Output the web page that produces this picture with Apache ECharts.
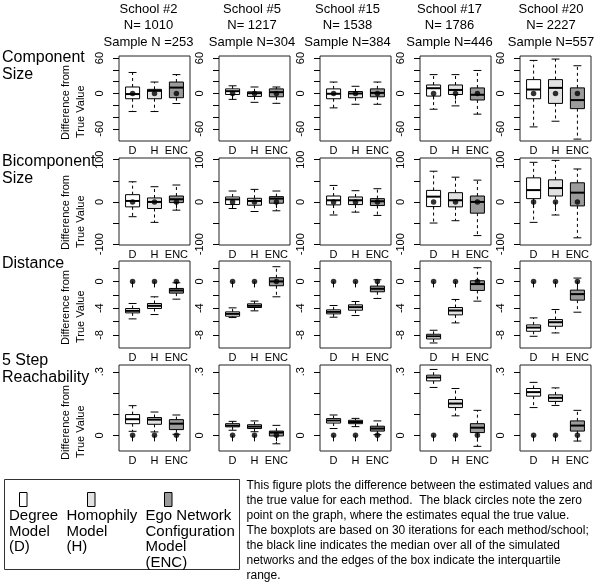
<!DOCTYPE html>
<html>
<head>
<meta charset="utf-8">
<script src="https://cdn.jsdelivr.net/npm/echarts@6/dist/echarts.min.js"></script>
<style>
html,body{margin:0;padding:0;background:#fff;}
#chart{width:600px;height:587px;}
</style>
</head>
<body>
<div id="chart"></div>
<script>
// ---------- data ----------
const schools = ['School #2', 'School #5', 'School #15', 'School #17', 'School #20'];
const populationN = ['N= 1010', 'N= 1217', 'N= 1538', 'N= 1786', 'N= 2227'];
const sampleN = ['Sample N =253', 'Sample N=304', 'Sample N=384', 'Sample N=446', 'Sample N=557'];
const methods = ['D', 'H', 'ENC'];
const measureTitles = [['Component', 'Size'], ['Bicomponent', 'Size'], ['Distance'], ['5 Step', 'Reachability']];
const trueValueDiff = [0, 0, 0]; // black circles: zero point for D, H, ENC

// each entry: [lower whisker, Q1, median, Q3, upper whisker] for D, H, ENC
const componentSize = [
  [[-30.6, -8.9, -1, 11, 35.6], [-30.6, -8.9, 4.5, 7, 19.4], [-17, -7.2, 10, 19.4, 32]],
  [[-10, -1.7, 3.9, 7.8, 13], [-15, -5, 0.5, 2.8, 11], [-16.7, -5.6, 2.2, 7.8, 11]],
  [[-24.4, -8.9, -0.5, 7.8, 19.4], [-18.3, -7.2, 0, 3.3, 12.2], [-18.3, -5.6, 1, 7.8, 19.4]],
  [[-26.7, -4.4, 8.9, 14.4, 32], [-21, -1.7, 6, 14.4, 32], [-35, -11, -2.2, 9.4, 39]],
  [[-56.6, -8.9, 6.7, 23.5, 56], [-47, -16.8, 9.5, 23.5, 58.3], [-77.3, -25.7, -11.2, 9.5, 47]]
];
const bicomponentSize = [
  [[-35, -11.7, 2.3, 17.2, 47.7], [-48.4, -15.6, 0, 9.4, 36], [-19.5, -1.6, 6.3, 14, 40]],
  [[-15.6, -6, 6, 11.7, 25.8], [-22.7, -7.8, 2.3, 8.6, 29.7], [-21, -3.1, 7.8, 12.5, 25.8]],
  [[-31, -7, 3.9, 14, 39], [-24.2, -6.3, 3.9, 11.7, 26.6], [-32, -8.6, 1.6, 7.8, 31.3]],
  [[-50, -11, 12.5, 27.3, 72.7], [-44.5, -11.7, 3.9, 21.9, 58.6], [-79.7, -26.6, 0, 14, 51.6]],
  [[-48.4, 7.8, 28, 57, 93.8], [-31, 14, 32.8, 52.3, 98.4], [-85, -9.4, 21.9, 45.3, 78]]
];
const distance = [
  [[-5.6, -4.7, -4.4, -4.05, -3.3], [-4.95, -4.05, -3.65, -3.3, -2.3], [-2.65, -1.75, -1.35, -1.05, -0.2]],
  [[-5.4, -5.2, -4.85, -4.55, -3.95], [-4.4, -3.9, -3.65, -3.35, -2.95], [-2.3, -0.65, 0, 0.55, 2.2]],
  [[-5.35, -4.85, -4.55, -4.25, -3.6], [-5.1, -4.3, -3.85, -3.5, -3], [-2.55, -1.55, -1.1, -0.7, 0.25]],
  [[-9.2, -8.6, -8.2, -7.9, -7.3], [-6.2, -5, -4.35, -3.9, -2.7], [-2.95, -1.35, -0.4, 0.1, 2.05]],
  [[-8.2, -7.45, -6.9, -6.5, -5.45], [-7.7, -6.7, -6.1, -5.7, -4.2], [-4.6, -2.8, -1.9, -1.3, 0.5]]
];
const reachability5 = [
  [[0.019, 0.055, 0.076, 0.098, 0.14], [0.016, 0.052, 0.074, 0.084, 0.11], [0.005, 0.027, 0.055, 0.074, 0.096]],
  [[0.024, 0.04, 0.046, 0.055, 0.066], [0.017, 0.032, 0.041, 0.05, 0.068], [-0.04, -0.003, 0.013, 0.02, 0.047]],
  [[0.032, 0.058, 0.07, 0.079, 0.096], [0.041, 0.055, 0.063, 0.071, 0.08], [0.003, 0.02, 0.032, 0.043, 0.068]],
  [[0.226, 0.257, 0.273, 0.284, 0.311], [0.092, 0.131, 0.15, 0.169, 0.221], [-0.052, 0.013, 0.036, 0.055, 0.118]],
  [[0.131, 0.185, 0.204, 0.221, 0.25], [0.141, 0.16, 0.177, 0.191, 0.224], [-0.027, 0.02, 0.046, 0.068, 0.118]]
];
const yTicks = [[-60, -40, -20, 0, 20, 40, 60], [-100, -50, 0, 50, 100], [-8, -6, -4, -2, 0, 2], [0, 0.1, 0.2, 0.3]];
const yTickLabels = [[-60, 0, 60], [-100, 0, 100], [-8, -4, 0], [0, 0.3]];
const legendLabels = [['Degree', 'Model', '(D)'], ['Homophily', 'Model', '(H)'], ['Ego Network', 'Configuration', 'Model', '(ENC)']];
const noteLines = [
  'This figure plots the difference between the estimated values and',
  'the true value for each method.  The black circles note the zero',
  'point on the graph, where the estimates equal the true value.',
  'The boxplots are based on 30 iterations for each method/school;',
  'the black line indicates the median over all of the simulated',
  'networks and the edges of the box indicate the interquartile',
  'range.'
];

// ---------- layout / style ----------
const measures = [componentSize, bicomponentSize, distance, reachability5];
const yRange = [[-80.5, 63.5], [-102, 104], [-9.95, 3.05], [-0.074, 0.332]];
const colLeft = [119, 219, 320, 420, 520];
const colW = 71;
const rowTop = [56, 158, 261, 365];
const rowH = [85, 87, 87, 86];
const fills = ['#ffffff', '#e2e2e2', '#9b9b9b'];
const FONT = '"Liberation Sans", Arial, sans-serif';
const BOX_W = 0.64, CAP_W = 0.36;

function fmtY(row, v) {
  if (row === 3) return v === 0 ? '0' : String(v).replace(/^0\./, '.');
  return String(v);
}

function renderBox(params, api) {
  const x = api.value(0);
  const lo = api.coord([x, api.value(1)]);
  const q1 = api.coord([x, api.value(2)]);
  const md = api.coord([x, api.value(3)]);
  const q3 = api.coord([x, api.value(4)]);
  const hi = api.coord([x, api.value(5)]);
  const bw = api.size([BOX_W, 0])[0];
  const cw = api.size([CAP_W, 0])[0];
  const cx = lo[0];
  const dash = {stroke: '#000', lineWidth: 1, lineDash: [3, 3]};
  const solid = {stroke: '#000', lineWidth: 1};
  return {
    type: 'group',
    children: [
      {type: 'line', shape: {x1: cx, y1: q3[1], x2: cx, y2: hi[1]}, style: dash},
      {type: 'line', shape: {x1: cx, y1: q1[1], x2: cx, y2: lo[1]}, style: dash},
      {type: 'line', shape: {x1: cx - cw / 2, y1: hi[1], x2: cx + cw / 2, y2: hi[1]}, style: solid},
      {type: 'line', shape: {x1: cx - cw / 2, y1: lo[1], x2: cx + cw / 2, y2: lo[1]}, style: solid},
      {type: 'rect', shape: {x: cx - bw / 2, y: q3[1], width: bw, height: q1[1] - q3[1]},
        style: {fill: fills[x - 1], stroke: '#000', lineWidth: 1}},
      {type: 'line', shape: {x1: cx - bw / 2, y1: md[1], x2: cx + bw / 2, y2: md[1]},
        style: {stroke: '#000', lineWidth: 2}}
    ]
  };
}

const grid = [], xAxis = [], yAxis = [], series = [];
measures.forEach((measure, r) => {
  schools.forEach((s, c) => {
    const idx = grid.length;
    grid.push({left: colLeft[c], top: rowTop[r], width: colW, height: rowH[r],
      show: true, borderColor: '#222', borderWidth: 1, backgroundColor: 'transparent',
      containLabel: false, outerBoundsMode: 'none'});
    xAxis.push({type: 'value', gridIndex: idx, min: 0.38, max: 3.62,
      axisLine: {show: false}, splitLine: {show: false},
      axisTick: {show: true, length: 6, customValues: [1, 2, 3], lineStyle: {color: '#000'}},
      axisLabel: {show: true, customValues: [1, 2, 3], margin: 4, color: '#000',
        fontFamily: FONT, fontSize: 11, formatter: v => methods[Math.round(v) - 1] || ''}});
    yAxis.push({type: 'value', gridIndex: idx, min: yRange[r][0], max: yRange[r][1],
      axisLine: {show: false}, splitLine: {show: false},
      axisTick: {show: true, length: 6, customValues: yTicks[r], lineStyle: {color: '#000'}},
      axisLabel: {show: true, customValues: yTickLabels[r], rotate: 90, margin: 14, color: '#000',
        fontFamily: FONT, fontSize: 11, formatter: v => fmtY(r, v)}});
    series.push({type: 'custom', xAxisIndex: idx, yAxisIndex: idx, renderItem: renderBox,
      encode: {x: 0, y: [1, 2, 3, 4, 5]}, clip: false, z: 2,
      data: measure[c].map((b, k) => [k + 1].concat(b))});
    series.push({type: 'scatter', xAxisIndex: idx, yAxisIndex: idx, symbolSize: 5.5, z: 5,
      itemStyle: {color: '#000'}, silent: true,
      data: trueValueDiff.map((v, k) => [k + 1, v])});
  });
});

// ---------- text graphics ----------
const graphic = [];
const colTitleX = [148.5, 252, 347.5, 449.5, 551];
schools.forEach((s, c) => {
  [s, populationN[c], sampleN[c]].forEach((t, i) => {
    graphic.push({type: 'text', x: colTitleX[c], y: [9, 25, 42][i],
      style: {text: t, font: '13px ' + FONT, fill: '#000', textAlign: 'center', textVerticalAlign: 'middle'}});
  });
});
const rowTitleY = [[58, 75], [162, 178.5], [263.5], [361, 378]];
measureTitles.forEach((lines, r) => {
  lines.forEach((t, i) => {
    graphic.push({type: 'text', x: 2, y: rowTitleY[r][i],
      style: {text: t, font: '16px ' + FONT, fill: '#000', textAlign: 'left', textVerticalAlign: 'middle'}});
  });
});
const yTitleStart = [140, 250, 345, 460];
yTitleStart.forEach((y0) => {
  graphic.push({type: 'text', x: 66, y: y0, rotation: Math.PI / 2,
    style: {text: 'Difference from', font: '11px ' + FONT, fill: '#000', textAlign: 'left', textVerticalAlign: 'middle'}});
  graphic.push({type: 'text', x: 81, y: y0 - 2, rotation: Math.PI / 2,
    style: {text: 'True Value', font: '11px ' + FONT, fill: '#000', textAlign: 'left', textVerticalAlign: 'middle'}});
});
// legend box
graphic.push({type: 'rect', shape: {x: 4.5, y: 479.5, width: 235, height: 90},
  style: {fill: 'none', stroke: '#333', lineWidth: 1}});
const legendX = [9, 66.5, 145.5];
const swatchX = [19.5, 87.5, 164.5];
legendLabels.forEach((lines, k) => {
  graphic.push({type: 'rect', shape: {x: swatchX[k], y: 492.5, width: 7.5, height: 14},
    style: {fill: fills[k], stroke: '#000', lineWidth: 1}});
  lines.forEach((t, i) => {
    graphic.push({type: 'text', x: legendX[k], y: 516 + i * 15.5,
      style: {text: t, font: '15px ' + FONT, fill: '#000', textAlign: 'left', textVerticalAlign: 'middle'}});
  });
});
noteLines.forEach((t, i) => {
  graphic.push({type: 'text', x: 246.5, y: 485.5 + i * 15,
    style: {text: t, font: '12px ' + FONT, fill: '#000', textAlign: 'left', textVerticalAlign: 'middle'}});
});

const chart = echarts.init(document.getElementById('chart'), null, {renderer: 'canvas'});
chart.setOption({
  animation: false,
  backgroundColor: '#fff',
  grid, xAxis, yAxis, series, graphic
});
</script>
</body>
</html>
